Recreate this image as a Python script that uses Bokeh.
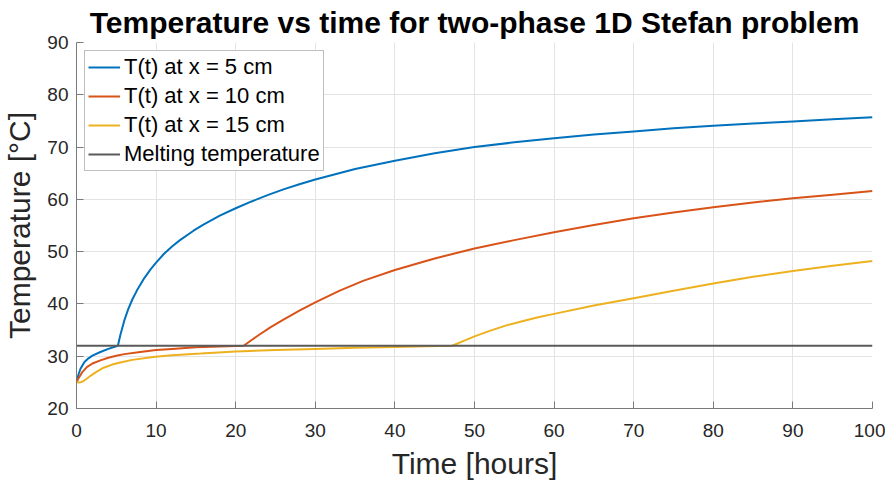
from bokeh.plotting import figure
from bokeh.models import Range1d, Legend, LegendItem, FixedTicker
from bokeh.embed import file_html
from bokeh.resources import INLINE

# ---- data ----
t_5cm = [0, 0.25, 0.5, 1, 1.5, 2, 3, 4, 5.2, 5.5, 6.0, 6.5, 7.0, 7.6, 8.5, 9.3, 10, 11,
         12, 13, 14.7, 16, 18, 20, 22, 24, 26, 28, 30, 35, 40, 45, 50, 55, 60, 65, 70,
         75, 80, 85, 90, 95, 100]
T_5cm = [25.0, 26.5, 27.6, 28.9, 29.6, 30.1, 30.8, 31.4, 32.0, 34.0, 36.8, 39.0, 40.8,
         42.6, 44.9, 46.6, 47.9, 49.6, 51.0, 52.2, 54.0, 55.2, 56.9, 58.3, 59.6, 60.8,
         61.9, 62.9, 63.8, 65.8, 67.4, 68.8, 70.0, 70.9, 71.7, 72.4, 73.0, 73.6, 74.1,
         74.5, 74.9, 75.3, 75.7]

t_10cm = [0, 0.3, 0.7, 1.3, 2, 3, 4, 5, 6, 8, 10, 12, 15, 18, 21, 22, 23, 24.4, 26, 28,
          30, 33, 36, 40, 45, 50, 55, 60, 65, 70, 75, 80, 85, 90, 95, 100]
T_10cm = [25.0, 25.9, 26.9, 27.9, 28.6, 29.2, 29.7, 30.1, 30.4, 30.8, 31.2, 31.4, 31.7,
          31.85, 32.0, 33.1, 34.15, 35.55, 37.0, 38.7, 40.3, 42.5, 44.4, 46.5, 48.7,
          50.6, 52.2, 53.7, 55.1, 56.4, 57.5, 58.5, 59.4, 60.2, 60.9, 61.6]

t_15cm = [0, 0.4, 0.8, 1.2, 1.8, 2.5, 3.4, 4.5, 5.5, 7, 9.9, 12, 15.6, 20, 25, 30, 35,
          40, 44, 47.2, 48.5, 50, 52, 54, 56, 58, 60, 65, 70, 75, 80, 85, 90, 95, 100]
T_15cm = [25.0, 24.95, 25.2, 25.6, 26.3, 27.0, 27.8, 28.4, 28.8, 29.3, 29.9, 30.2, 30.5,
          30.9, 31.2, 31.4, 31.6, 31.75, 31.9, 32.0, 32.85, 33.8, 34.9, 35.9, 36.7,
          37.45, 38.1, 39.7, 41.1, 42.5, 43.9, 45.2, 46.3, 47.3, 48.2]

t_melt = [0, 100]
T_melt = [32, 32]

x_ticks = [0, 10, 20, 30, 40, 50, 60, 70, 80, 90, 100]
y_ticks = [20, 30, 40, 50, 60, 70, 80, 90]

labels = ["T(t) at x = 5 cm", "T(t) at x = 10 cm", "T(t) at x = 15 cm", "Melting temperature"]
colors = ["#0072BD", "#D95319", "#EDB120", "#5a5a5a"]

FONT = "Liberation Sans"

p = figure(width=885, height=484, output_backend="svg", toolbar_location=None,
           x_range=Range1d(0, 100), y_range=Range1d(20, 90),
           min_border_left=76, min_border_right=13, min_border_top=41,
           min_border_bottom=76)

p.title.text = "Temperature vs time for two-phase 1D Stefan problem"
p.title.text_font = FONT
p.title.text_font_size = "30px"
p.title.text_font_style = "bold"
p.title.text_color = "#000000"
p.title.align = "center"
p.title.standoff = 7
p.title.offset = 0

p.outline_line_color = None
p.background_fill_color = "white"
p.border_fill_color = "white"

for ax in (p.xaxis[0], p.yaxis[0]):
    ax.axis_line_color = "#7a7a7a"
    ax.axis_line_width = 1
    ax.major_tick_line_color = "#7a7a7a"
    ax.major_tick_in = 7
    ax.major_tick_out = 0
    ax.minor_tick_line_color = None
    ax.major_label_text_font = FONT
    ax.major_label_text_font_size = "19px"
    ax.major_label_text_color = "#262626"
    ax.axis_label_text_font = FONT
    ax.axis_label_text_font_size = "30px"
    ax.axis_label_text_font_style = "normal"
    ax.axis_label_text_color = "#262626"

p.xaxis.ticker = FixedTicker(ticks=x_ticks)
p.yaxis.ticker = FixedTicker(ticks=y_ticks)
p.xaxis.axis_label = "Time [hours]"
p.yaxis.axis_label = "Temperature [°C]"
p.xaxis.major_label_standoff = 15
p.xaxis.axis_label_standoff = 7
p.yaxis.major_label_standoff = 8
p.yaxis.axis_label_standoff = 8

p.xgrid.ticker = FixedTicker(ticks=x_ticks)
p.ygrid.ticker = FixedTicker(ticks=y_ticks)
p.grid.grid_line_color = "#e3e3e3"
p.grid.grid_line_width = 1

r1 = p.line(t_5cm, T_5cm, line_color=colors[0], line_width=2)
r2 = p.line(t_10cm, T_10cm, line_color=colors[1], line_width=2)
r3 = p.line(t_15cm, T_15cm, line_color=colors[2], line_width=2)
r4 = p.line(t_melt, T_melt, line_color=colors[3], line_width=2)

legend = Legend(items=[LegendItem(label=l, renderers=[r]) for l, r in zip(labels, [r1, r2, r3, r4])],
                location="top_left")
legend.margin = 8
legend.padding = 3
legend.spacing = 3
legend.label_height = 20
legend.glyph_height = 20
legend.glyph_width = 32
legend.label_standoff = 4
legend.label_text_font = FONT
legend.label_text_font_size = "22px"
legend.label_text_color = "#000000"
legend.border_line_color = "#7f7f7f"
legend.border_line_width = 1
legend.background_fill_color = "white"
legend.background_fill_alpha = 1
p.add_layout(legend)

open("out.html", "w").write(file_html(p, INLINE))
